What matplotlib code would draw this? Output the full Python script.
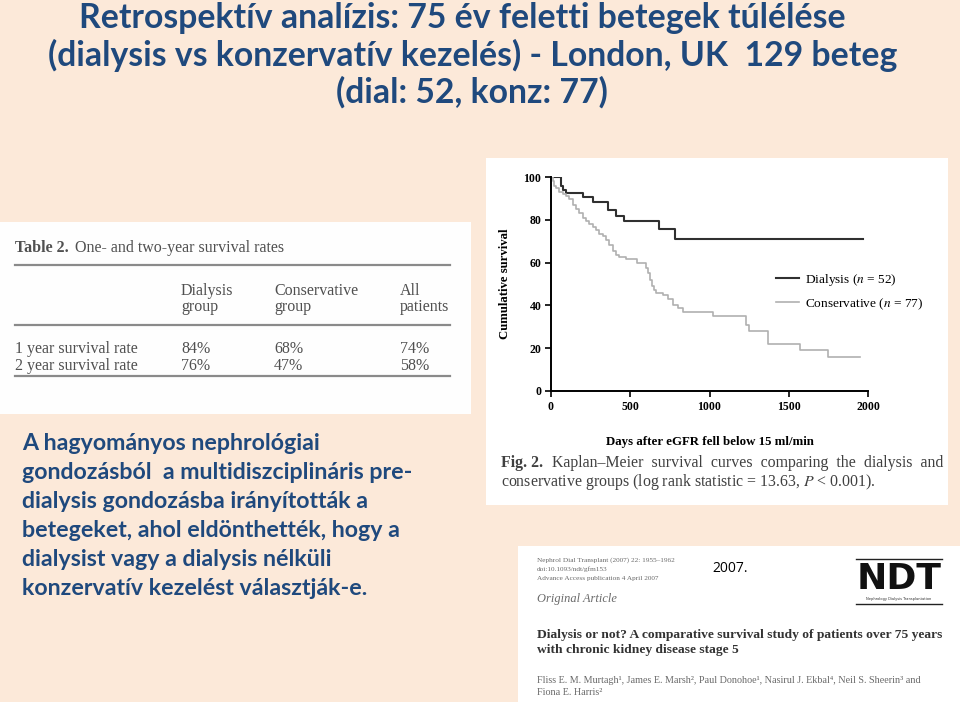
import matplotlib
matplotlib.use("Agg")
import matplotlib.pyplot as plt
from matplotlib.patches import Rectangle
from matplotlib.lines import Line2D

W, H = 960, 702

# Kaplan-Meier curves (days, cumulative survival %)
dial_days = [0, 63, 78, 95, 200, 263, 358, 410, 463, 684, 785, 1968]
dial_surv = [100, 96, 94, 92.5, 90.5, 88.5, 84.5, 82, 79.5, 75.5, 71, 71]

cons_days = [0, 10, 21, 32, 53, 74, 95, 116, 137, 158, 179, 200, 221, 242, 263, 284, 305,
             326, 347, 368, 390, 410, 432, 474, 540, 600, 612, 624, 636, 648, 660, 705,
             737, 768, 800, 832, 1021, 1231, 1252, 1368, 1568, 1747, 1947]
cons_surv = [100, 98, 96, 95, 93, 92, 91, 89.5, 87, 85, 83, 81, 79.5, 78, 76.5, 75, 73.5,
             72.5, 70.5, 68, 65.5, 63.5, 62.5, 61.5, 60, 57.5, 55, 52, 49, 47, 46, 45,
             43, 40, 39, 37, 35, 31, 28, 22, 19, 16, 16]

series_labels = ["Dialysis ($n$ = 52)", "Conservative ($n$ = 77)"]
x_ticks = [0, 500, 1000, 1500, 2000]
y_ticks = [0, 20, 40, 60, 80, 100]

# Table 2 contents
table_cols = [("Dialysis", "group"), ("Conservative", "group"), ("All", "patients")]
table_rows = ["1 year survival rate", "2 year survival rate"]
table_vals = [["84%", "68%", "74%"], ["76%", "47%", "58%"]]

title_lines = [
    "Retrospektív analízis: 75 év feletti betegek túlélése",
    "(dialysis vs konzervatív kezelés) - London, UK  129 beteg",
    "(dial: 52, konz: 77)",
]
body_lines = [
    "A hagyományos nephrológiai",
    "gondozásból  a multidiszciplináris pre-",
    "dialysis gondozásba irányították a",
    "betegeket, ahol eldönthették, hogy a",
    "dialysist vagy a dialysis nélküli",
    "konzervatív kezelést választják-e.",
]

BG = "#FCE9D9"
NAVY = "#1F497D"
SERIF = "Liberation Serif"
SANS = "Lato"

plt.rcParams["mathtext.fontset"] = "stix"

fig = plt.figure(figsize=(W / 100, H / 100), dpi=100, facecolor=BG)


def fx(x):
    return x / W


def fy(y):
    return 1 - y / H


def txt(x, y, s, **kw):
    fig.text(fx(x), fy(y), s, **kw)


def panel(x0, y0, x1, y1, color="white"):
    fig.patches.append(Rectangle((fx(x0), fy(y1)), fx(x1) - fx(x0), fy(y0) - fy(y1),
                                 transform=fig.transFigure, facecolor=color,
                                 edgecolor="none", zorder=-5))


def hline(x0, x1, y, color="#8a8a8a", lw=1.6):
    fig.add_artist(Line2D([fx(x0), fx(x1)], [fy(y), fy(y)], transform=fig.transFigure,
                          color=color, lw=lw))


# Title (lines centred a little differently, as on the slide)
for line, cx, yb in zip(title_lines, [462, 473, 472], [28, 65.5, 103]):
    txt(cx, yb, line, ha="center", va="baseline", fontsize=24.3,
        fontweight="bold", color=NAVY, family=SANS)

# Body text
for i, line in enumerate(body_lines):
    txt(22, 450 + i * 29, line, ha="left", va="baseline", fontsize=16.7,
        fontweight="bold", color=NAVY, family=SANS)

# Table panel
panel(0, 222, 471, 414, color="#FEFEFE")
tgray = "#505050"
tsize = 11.5
txt(15, 252, "Table 2.", fontsize=tsize, fontweight="bold", color=tgray, family=SERIF, va="baseline")
txt(75, 252, "One- and two-year survival rates", fontsize=tsize, color=tgray, family=SERIF, va="baseline")
hline(15, 450, 265)
col_x = [181, 274, 400]
for cx, (a, b) in zip(col_x, table_cols):
    txt(cx, 295, a, fontsize=tsize, color=tgray, family=SERIF, va="baseline")
    txt(cx, 311, b, fontsize=tsize, color=tgray, family=SERIF, va="baseline")
hline(15, 450, 325)
for r, (lab, vals) in enumerate(zip(table_rows, table_vals)):
    yb = 353 + r * 16.5
    txt(15, yb, lab, fontsize=tsize, color=tgray, family=SERIF, va="baseline")
    for cx, v in zip(col_x, vals):
        txt(cx, yb, v, fontsize=tsize, color=tgray, family=SERIF, va="baseline")
hline(15, 450, 376)

# Kaplan-Meier panel
panel(486, 158, 948, 505)
ax = fig.add_axes([fx(551), fy(391), fx(868) - fx(551), fy(177) - fy(391)])
ax.set_facecolor("none")
ax.step(dial_days, dial_surv, where="post", color="#303030", lw=1.5, label=series_labels[0])
ax.step(cons_days, cons_surv, where="post", color="#b0b0b0", lw=1.2, label=series_labels[1])
ax.set_xlim(0, 2000)
ax.set_ylim(0, 100)
ax.set_xticks(x_ticks)
ax.set_yticks(y_ticks)
for s in ["top", "right"]:
    ax.spines[s].set_visible(False)
for s in ["left", "bottom"]:
    ax.spines[s].set_linewidth(1.4)
ax.tick_params(length=4, width=1.2, labelsize=8.5, pad=3)
for lab in ax.get_xticklabels() + ax.get_yticklabels():
    lab.set_family(SERIF)
    lab.set_fontweight("bold")
ax.set_ylabel("Cumulative survival", family=SERIF, fontweight="bold", fontsize=9.2, labelpad=9)
ax.set_xlabel("Days after eGFR fell below 15 ml/min", family=SERIF, fontweight="bold",
              fontsize=9.3, labelpad=17)
ax.legend(loc="center left", bbox_to_anchor=(fx(764), fy(292)), bbox_transform=fig.transFigure,
          frameon=False, handlelength=1.75, handletextpad=0.4, labelspacing=0.62,
          prop={"family": SERIF, "size": 9.6})

csize = 11.4
txt(501, 467, "Fig. 2.", fontsize=csize, fontweight="bold", color="#404040", family=SERIF, va="baseline")
txt(552, 467, "Kaplan–Meier  survival  curves  comparing  the  dialysis  and", fontsize=csize,
    color="#404040", family=SERIF, va="baseline")
txt(501, 486, "conservative groups (log rank statistic = 13.63, $P$ < 0.001).", fontsize=csize,
    color="#404040", family=SERIF, va="baseline")

# NDT article header panel
panel(518, 546, 960, 702)
sgray = "#6a6a6a"
txt(537, 562, "Nephrol Dial Transplant (2007) 22: 1955–1962", fontsize=5.2, color=sgray, family=SERIF, va="baseline")
txt(537, 571, "doi:10.1093/ndt/gfm153", fontsize=5.2, color=sgray, family=SERIF, va="baseline")
txt(537, 580, "Advance Access publication 4 April 2007", fontsize=5.2, color=sgray, family=SERIF, va="baseline")
txt(537, 602, "Original Article", fontsize=8.9, style="italic", color=sgray, family=SERIF, va="baseline")
txt(712, 572, "2007.", fontsize=10, color="black", family="Open Sans", va="baseline")
hline(856, 942, 559, color="#222222", lw=1.0)
txt(899, 589, "NDT", fontsize=26, fontweight="heavy", color="#111111", family="DejaVu Sans",
    ha="center", va="baseline")
txt(899, 600, "Nephrology Dialysis Transplantation", fontsize=2.6, color="#333333",
    family="DejaVu Sans", ha="center", va="baseline")
hline(856, 942, 604, color="#222222", lw=1.0)
txt(537, 638, "Dialysis or not? A comparative survival study of patients over 75 years",
    fontsize=9.7, fontweight="bold", color="#333333", family=SERIF, va="baseline")
txt(537, 653, "with chronic kidney disease stage 5", fontsize=9.7, fontweight="bold",
    color="#333333", family=SERIF, va="baseline")
txt(537, 683, "Fliss E. M. Murtagh¹, James E. Marsh², Paul Donohoe¹, Nasirul J. Ekbal⁴, "
    "Neil S. Sheerin³ and", fontsize=7.3, color=sgray, family=[SERIF, "DejaVu Serif"], va="baseline")
txt(537, 695, "Fiona E. Harris²", fontsize=7.3, color=sgray, family=[SERIF, "DejaVu Serif"], va="baseline")

fig.savefig("out.png", dpi=100, facecolor=BG)
